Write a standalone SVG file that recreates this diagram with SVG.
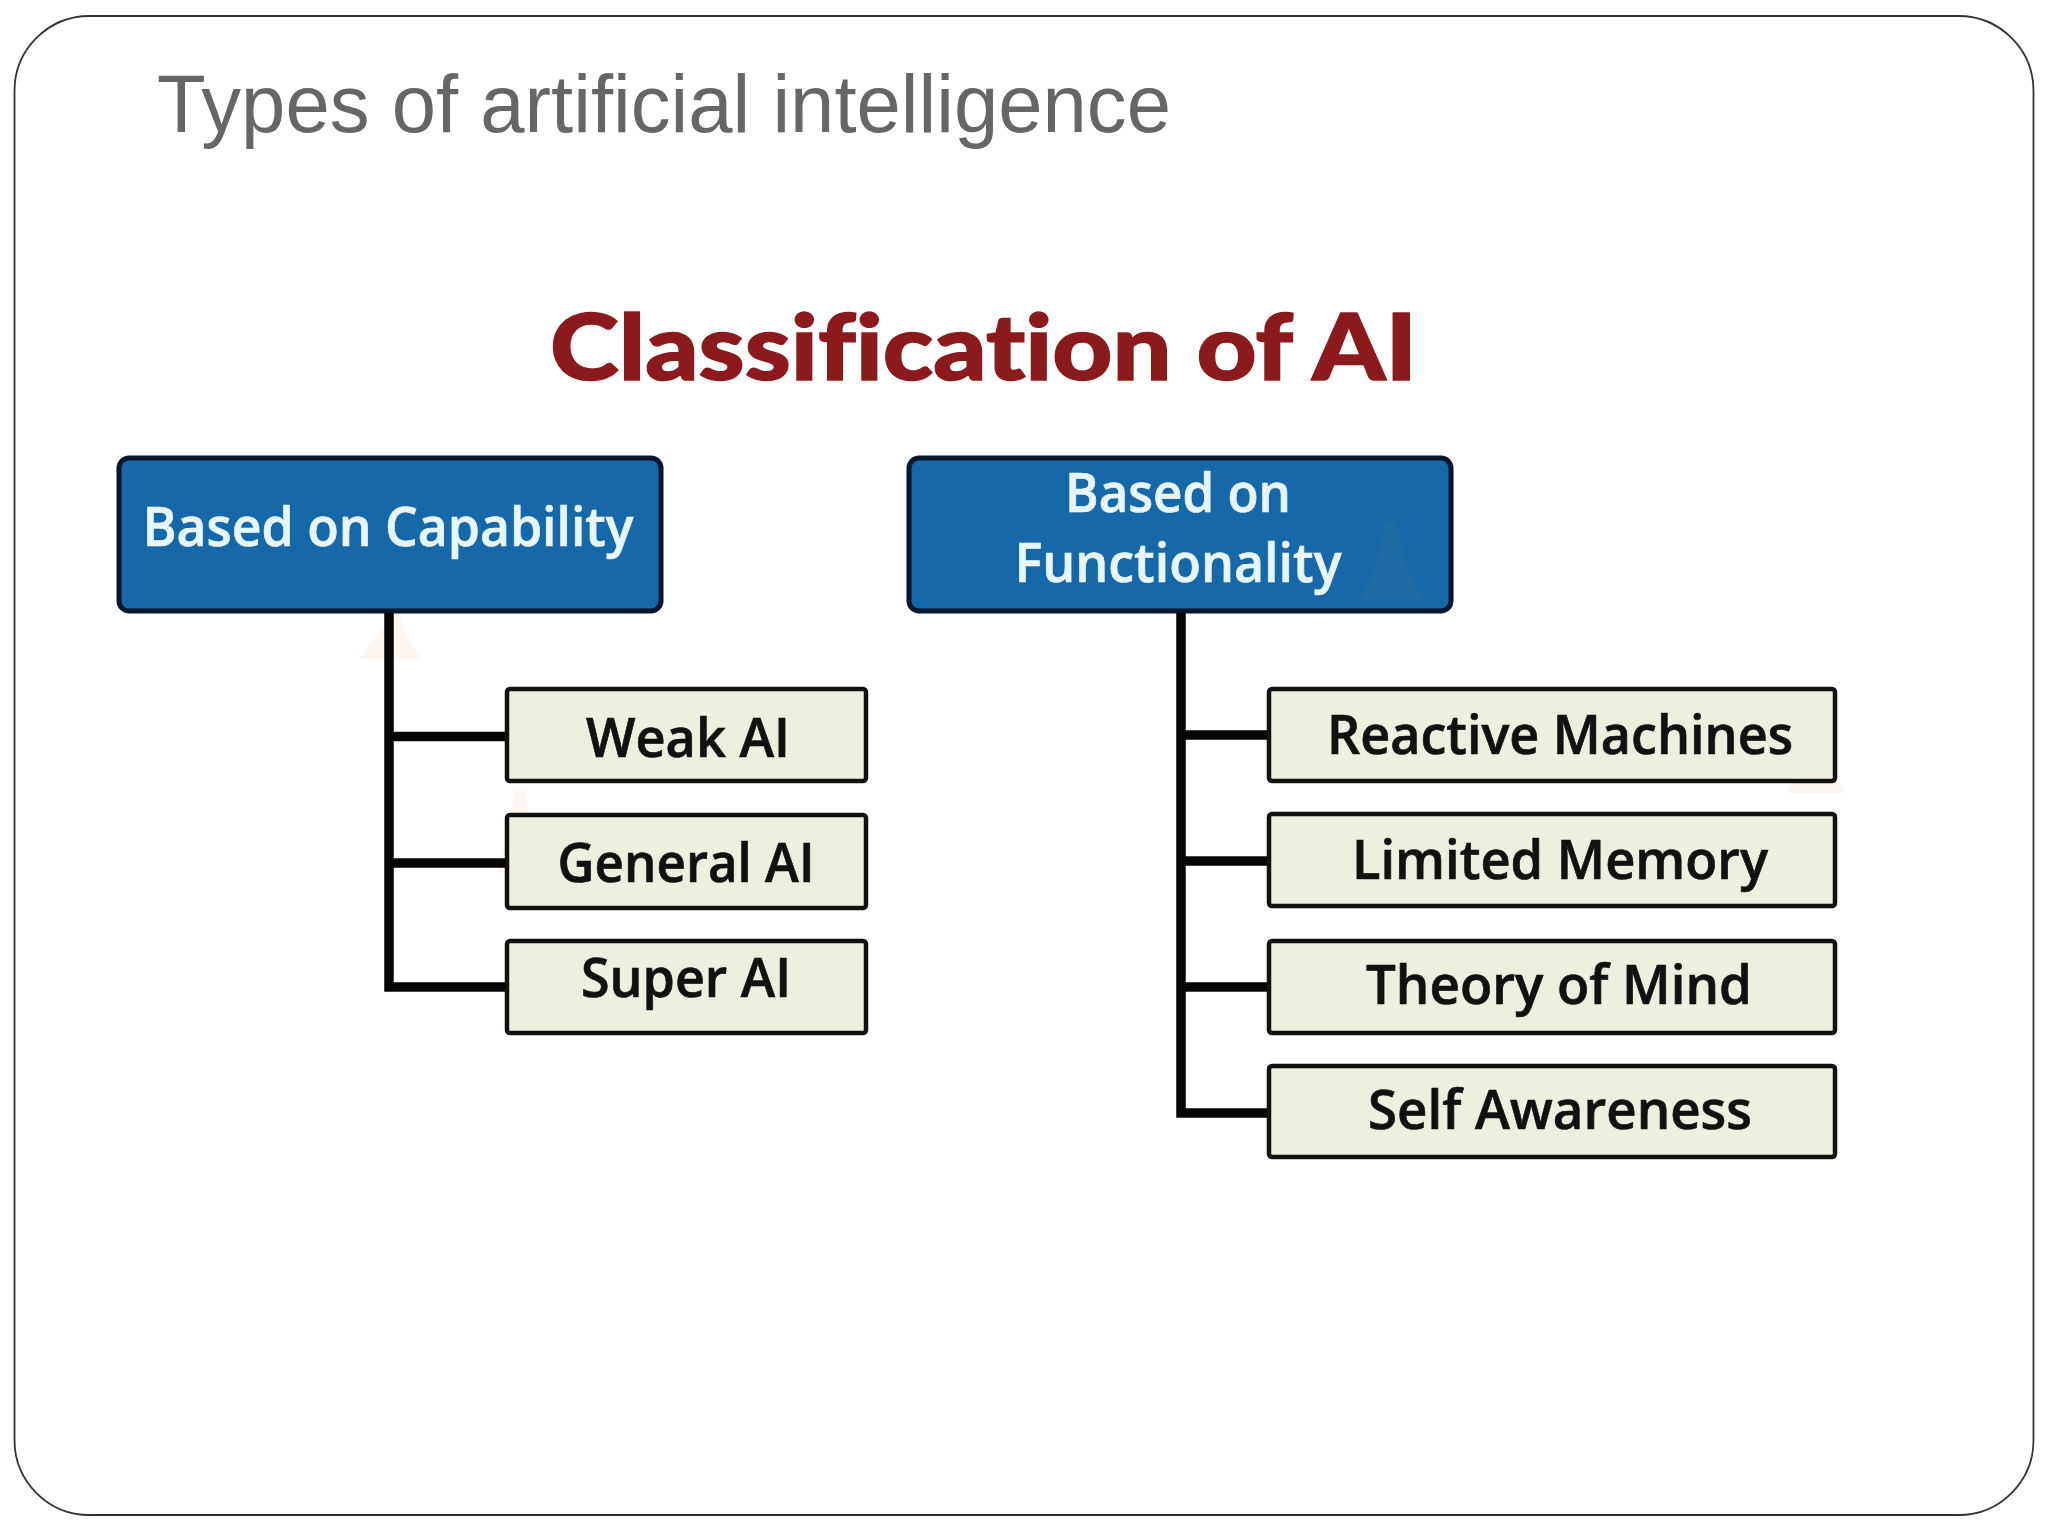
<svg xmlns="http://www.w3.org/2000/svg" width="2048" height="1536" viewBox="0 0 2048 1536">
<style>
.t{font-family:"Open Sans","Noto Sans",sans-serif;font-weight:600;text-anchor:middle;stroke-width:.7}
.h{fill:#e6f6fb;stroke:#e6f6fb;font-size:55px}
.l{fill:#111;stroke:#111;font-size:55px}
.hb{fill:#1668a8;stroke:#08152b;stroke-width:5}
.lb{fill:#efefe1;stroke:#111;stroke-width:4.500}
.c{fill:none;stroke:#050505;stroke-width:9.500;stroke-linejoin:miter}
.wm{fill:#f6c9a0;opacity:.16}
</style>
<rect width="2048" height="1536" fill="#fff"/>
<rect id="frame" x="14.500" y="16" width="2019" height="1499" rx="75" ry="75" fill="#fff" stroke="#333" stroke-width="1.800"/>
<text id="title" x="157" y="132" font-family="Liberation Sans,Arial,sans-serif" font-size="81" fill="#666" textLength="1014" lengthAdjust="spacingAndGlyphs">Types of artificial intelligence</text>
<text id="heading" x="550" y="380" font-family="Lato,'Open Sans',sans-serif" font-weight="900" font-size="92" fill="#8b1a1d" stroke="#8b1a1d" stroke-width="1.500" style="font-variant-ligatures:none" textLength="867" lengthAdjust="spacingAndGlyphs">Classification of AI</text>
<g id="watermarks">
<path class="wm" d="M392 612l8 0 6 25 16 22-64 0 18-22z"/>
<path class="wm" d="M515 790l10 0 6 42 14 40-48 0 12-40z"/>
<path class="wm" d="M1812 735l12 0 6 30 16 28-60 0 18-28z"/>
<path class="wm" d="M1282 965l10 0 8 30 14 40-50 0 10-40z"/>
</g>
<g id="connectors">
<path class="c" d="M389 611V987H507M389 736.500H507M389 863H507"/>
<path class="c" d="M1181 611V1113H1269M1181 735H1269M1181 861H1269M1181 987H1269"/>
</g>
<g id="capability"><rect class="hb" x="119" y="458" width="542" height="153" rx="10"/><text class="t h" x="388" y="546" textLength="491" lengthAdjust="spacingAndGlyphs">Based on Capability</text></g>
<g id="functionality"><rect class="hb" x="909" y="458" width="542" height="153" rx="10"/>
<path fill="#2b6f9e" opacity=".35" d="M1385 522h12l8 40 18 38h-62l16-38z"/>
<text class="t h" x="1178" y="512" textLength="226" lengthAdjust="spacingAndGlyphs">Based on</text><text class="t h" x="1178" y="582" textLength="327" lengthAdjust="spacingAndGlyphs">Functionality</text></g>
<g id="weak"><rect class="lb" x="507" y="689" width="359" height="92" rx="3"/><text class="t l" x="688" y="757" textLength="204" lengthAdjust="spacingAndGlyphs">Weak AI</text></g>
<g id="general"><rect class="lb" x="507" y="815" width="359" height="93" rx="3"/><text class="t l" x="686" y="882" textLength="257" lengthAdjust="spacingAndGlyphs">General AI</text></g>
<g id="super"><rect class="lb" x="507" y="941" width="359" height="92" rx="3"/><text class="t l" x="686" y="997" textLength="210" lengthAdjust="spacingAndGlyphs">Super AI</text></g>
<g id="reactive"><rect class="lb" x="1269" y="689" width="566" height="92" rx="3"/><text class="t l" x="1560" y="754" textLength="466" lengthAdjust="spacingAndGlyphs">Reactive Machines</text></g>
<g id="limited"><rect class="lb" x="1269" y="814" width="566" height="92" rx="3"/><text class="t l" x="1560" y="879" textLength="416" lengthAdjust="spacingAndGlyphs">Limited Memory</text></g>
<g id="theory"><rect class="lb" x="1269" y="941" width="566" height="92" rx="3"/><text class="t l" x="1559" y="1004" textLength="386" lengthAdjust="spacingAndGlyphs">Theory of Mind</text></g>
<g id="self"><rect class="lb" x="1269" y="1066" width="566" height="91" rx="3"/><text class="t l" x="1560" y="1129" textLength="384" lengthAdjust="spacingAndGlyphs">Self Awareness</text></g>
</svg>
